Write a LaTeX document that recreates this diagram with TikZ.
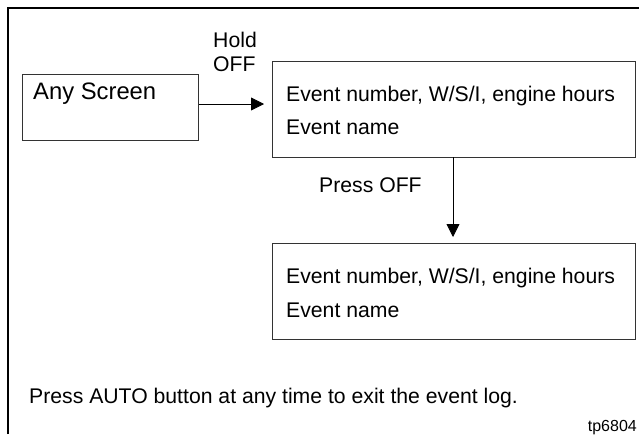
\documentclass[tikz,border=0pt]{standalone}
\usepackage{fontspec}
\setmainfont{Liberation Sans}
\usetikzlibrary{arrows.meta}
\begin{document}
\begin{tikzpicture}[x=1pt,y=-1pt,
  box/.style={draw=black!80,line width=0.8pt,inner sep=0pt,anchor=north west},
  lbl/.style={inner sep=0pt,anchor=base west,font=\fontsize{21.2}{24}\selectfont},
  arr/.style={line width=0.8pt,-{Triangle[length=13pt,width=13pt]}}]
\useasboundingbox (0,0) rectangle (639,434);
\draw[line width=2pt] (8,434) -- (8,8) -- (639,8);
\node[box,minimum width=176pt,minimum height=66pt] (any) at (21.5,74) {};
\node[box,minimum width=363pt,minimum height=96pt] (ev1) at (272,61) {};
\node[box,minimum width=363pt,minimum height=96pt] (ev2) at (272,243) {};
\node[lbl,font=\fontsize{23.8}{26}\selectfont] (anyt) at (33,99) {Any Screen};
\node[lbl] (e1a) at (286,101) {Event number, W/S/I, engine hours};
\node[lbl] (e1b) at (286,134) {Event name};
\node[lbl] (e2a) at (286,283) {Event number, W/S/I, engine hours};
\node[lbl] (e2b) at (286,317) {Event name};
\node[lbl] (hold) at (213,47) {Hold};
\node[lbl] (off) at (213,71) {OFF};
\node[lbl] (press) at (319,192) {Press OFF};
\node[lbl] (auto) at (29,403) {Press AUTO button at any time to exit the event log.};
\node[inner sep=0pt,anchor=base east,font=\fontsize{16}{18}\selectfont] (tp) at (637,431) {tp6804};
\coordinate (h1) at (199,104);
\coordinate (h2) at (264,104);
\draw[arr] (h1) -- (h2);
\coordinate (v1) at (453,157);
\coordinate (v2) at (453,237);
\draw[arr] (v1) -- (v2);
\end{tikzpicture}
\end{document}
